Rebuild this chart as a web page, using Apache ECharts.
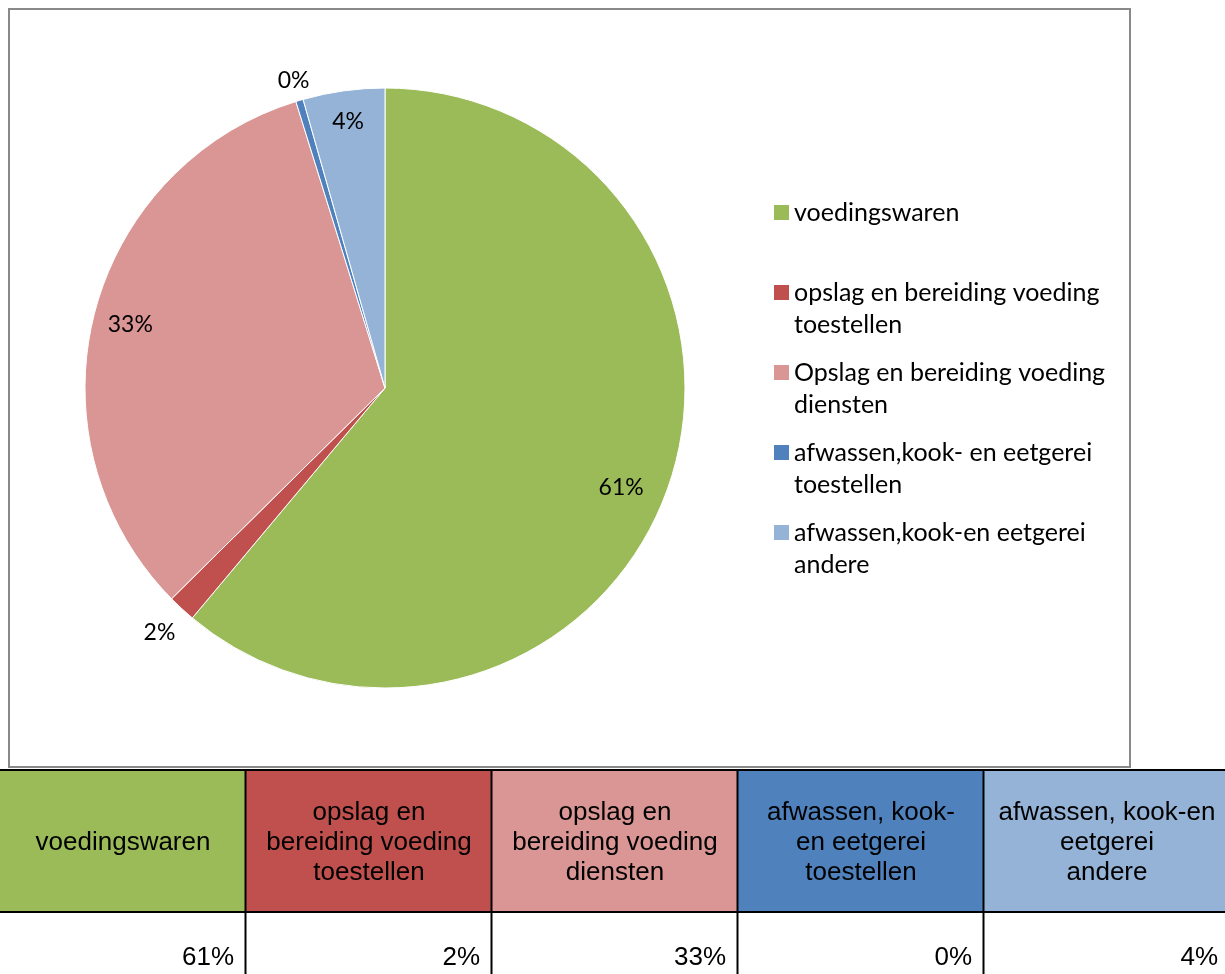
<!DOCTYPE html>
<html><head><meta charset="utf-8">
<script src="https://cdn.jsdelivr.net/npm/echarts@6/dist/echarts.min.js"></script>
<style>html,body{margin:0;padding:0;background:#fff;overflow:hidden}#c{width:1225px;height:974px}</style>
</head><body><div id="c"></div>
<script>
// ---- data ----
const categories = [
  'voedingswaren',
  'opslag en bereiding voeding toestellen',
  'Opslag en bereiding voeding diensten',
  'afwassen,kook- en eetgerei toestellen',
  'afwassen,kook-en eetgerei andere'
];
const legendLabels = [
  'voedingswaren',
  'opslag en bereiding voeding\ntoestellen',
  'Opslag en bereiding voeding\ndiensten',
  'afwassen,kook- en eetgerei\ntoestellen',
  'afwassen,kook-en eetgerei\nandere'
];
const tableHeaders = [
  'voedingswaren',
  'opslag en\nbereiding voeding\ntoestellen',
  'opslag en\nbereiding voeding\ndiensten',
  'afwassen, kook-\nen eetgerei\ntoestellen',
  'afwassen, kook-en\neetgerei\nandere'
];
const values = [61.1, 1.5, 32.6, 0.4, 4.4];

// ---- styles ----
const colors = ['#9BBB59', '#C0504D', '#D99694', '#4F81BD', '#95B3D7'];
const labelLineLengths = [-10, 33, -38, 21, -31];
const labelLineLengths2 = [-37, 0, 0, 0, 0];
const labelCenterShift = [-22, -16, -22, -16, -16];
const labelFont = 'Lato';
const tableFont = '"Liberation Sans", Arial, sans-serif';

const total = values.reduce((a, b) => a + b, 0);
const pctText = v => Math.round(v / total * 100 + 1e-9) + '%';

const chart = echarts.init(document.getElementById('c'), null, {renderer: 'canvas', width: 1225, height: 974});

// table graphics
const cellW = 246, tableTop = 770, headBottom = 912, tableBottom = 980;
const graphics = [];
graphics.push({type: 'rect', shape: {x: 9, y: 9, width: 1121, height: 758}, style: {fill: 'none', stroke: '#898989', lineWidth: 2}, silent: true, z: 0});
tableHeaders.forEach((h, i) => {
  graphics.push({type: 'rect', shape: {x: i * cellW, y: tableTop, width: cellW, height: headBottom - tableTop}, style: {fill: colors[i]}, silent: true});
  graphics.push({type: 'text', style: {text: h, x: i * cellW + cellW / 2, y: (tableTop + headBottom) / 2 + 2, align: 'center', verticalAlign: 'middle', fontSize: 26, lineHeight: 30, fontFamily: tableFont, fill: '#000'}, silent: true, z: 10});
  graphics.push({type: 'text', style: {text: pctText(values[i]), x: (i + 1) * cellW - 12, y: 958, align: 'right', verticalAlign: 'middle', fontSize: 26, fontFamily: tableFont, fill: '#000'}, silent: true, z: 10});
});
// grid lines
graphics.push({type: 'line', shape: {x1: 0, y1: tableTop, x2: 1225, y2: tableTop}, style: {stroke: '#000', lineWidth: 2}, silent: true, z: 11});
graphics.push({type: 'line', shape: {x1: 0, y1: headBottom, x2: 1225, y2: headBottom}, style: {stroke: '#000', lineWidth: 2}, silent: true, z: 11});
for (let i = 1; i < tableHeaders.length; i++) {
  graphics.push({type: 'line', shape: {x1: i * cellW - 0.5, y1: tableTop, x2: i * cellW - 0.5, y2: tableBottom}, style: {stroke: '#000', lineWidth: 2}, silent: true, z: 11});
}

chart.setOption({
  animation: false,
  backgroundColor: '#fff',
  legend: {
    orient: 'vertical', left: 774, top: 200, padding: 0,
    itemWidth: 15, itemHeight: 15, itemGap: 23, icon: 'rect',
    selectedMode: false,
    data: categories,
    itemStyle: {borderWidth: 0},
    formatter: name => {
      const lines = legendLabels[categories.indexOf(name)].split('\n');
      if (lines.length < 2) lines.push(' ');
      return lines.map(l => '{t|' + l + '}').join('\n');
    },
    textStyle: {
      padding: [16, 0, -16, 0],
      rich: {t: {fontFamily: labelFont, fontSize: 25, lineHeight: 32, color: '#000'}}
    }
  },
  graphic: graphics,
  series: [{
    type: 'pie',
    center: [385, 388],
    radius: [0, 300],
    startAngle: 90,
    clockwise: true,
    avoidLabelOverlap: false,
    silent: true,
    itemStyle: {borderColor: '#fff', borderWidth: 1},
    label: {
      show: true, position: 'outside', color: '#000',
      fontFamily: labelFont, fontSize: 23,
      formatter: p => Math.round(p.percent + 1e-9) + '%'
    },
    labelLine: {show: false, length2: 0},
    emphasis: {disabled: true},
    data: categories.map((n, i) => ({
      name: n, value: values[i],
      itemStyle: {color: colors[i]},
      label: {distanceToLabelLine: labelCenterShift[i]},
      labelLine: {show: false, length: labelLineLengths[i], length2: labelLineLengths2[i]}
    }))
  }]
});
</script></body></html>
